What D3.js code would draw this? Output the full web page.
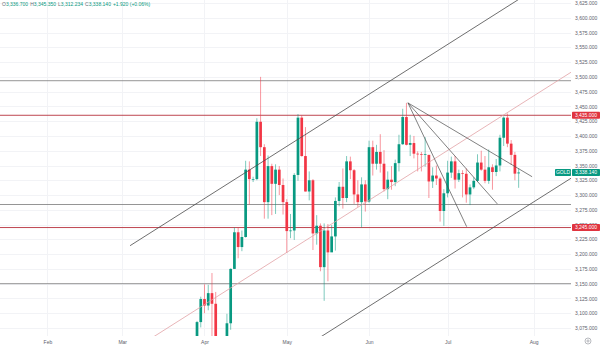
<!DOCTYPE html>
<html>
<head>
<meta charset="utf-8">
<script src="https://cdn.jsdelivr.net/npm/d3@7"></script>
<style>
  html, body { margin: 0; padding: 0; background: #ffffff; }
  svg { display: block; font-family: "Liberation Sans", Arial, sans-serif; }
</style>
</head>
<body>
<svg id="chart" width="600" height="346"></svg>
<script>
// ---- daily candles (GOLD, 2025) ----
const dates = [
  "2025-03-28","2025-03-31",
  "2025-04-01","2025-04-02","2025-04-03","2025-04-04","2025-04-07","2025-04-08","2025-04-09","2025-04-10","2025-04-11",
  "2025-04-14","2025-04-15","2025-04-16","2025-04-17","2025-04-18","2025-04-21","2025-04-22","2025-04-23","2025-04-24","2025-04-25",
  "2025-04-28","2025-04-29","2025-04-30",
  "2025-05-01","2025-05-02","2025-05-05","2025-05-06","2025-05-07","2025-05-08","2025-05-09","2025-05-12","2025-05-13","2025-05-14",
  "2025-05-15","2025-05-16","2025-05-19","2025-05-20","2025-05-21","2025-05-22","2025-05-23","2025-05-26","2025-05-27","2025-05-28",
  "2025-05-29","2025-05-30",
  "2025-06-02","2025-06-03","2025-06-04","2025-06-05","2025-06-06","2025-06-09","2025-06-10","2025-06-11","2025-06-12","2025-06-13",
  "2025-06-16","2025-06-17","2025-06-18","2025-06-19","2025-06-20","2025-06-23","2025-06-24","2025-06-25","2025-06-26","2025-06-27",
  "2025-06-30",
  "2025-07-01","2025-07-02","2025-07-03","2025-07-04","2025-07-07","2025-07-08","2025-07-09","2025-07-10","2025-07-11","2025-07-14",
  "2025-07-15","2025-07-16","2025-07-17","2025-07-18","2025-07-21","2025-07-22","2025-07-23","2025-07-24","2025-07-25","2025-07-28"
];
const opens = [
  3057,3085,
  3124,3113,3134,3116,3037,2983,2982,3083,3175,
  3237,3212,3229,3343,3327,3327,3424,3381,3288,3349,
  3319,3343,3317,
  3288,3239,3240,3334,3431,3366,3306,3325,3235,3248,
  3178,3240,3203,3230,3290,3314,3295,3357,3342,3301,
  3288,3318,
  3289,3381,3353,3373,3353,3310,3326,3322,3354,3386,
  3432,3385,3388,3370,3369,3368,3368,3323,3333,3328,
  3273,
  3303,3338,3357,3326,3337,3336,3301,3313,3324,3355,
  3343,3324,3347,3339,3350,3397,3431,3387,3368,3336.7
];
const highs = [
  3087,3128,
  3149,3148,3168,3136,3055,3023,3099,3176,3245,
  3245,3240,3358,3357,3331,3430,3500,3386,3367,3353,
  3352,3349,3328,
  3293,3268,3337,3437,3435,3415,3340,3327,3266,3252,
  3252,3251,3249,3296,3322,3345,3366,3365,3344,3325,
  3330,3325,
  3392,3392,3385,3403,3376,3340,3349,3360,3402,3446,
  3456,3402,3400,3374,3373,3398,3368,3347,3350,3331,
  3310,
  3358,3365,3366,3343,3342,3345,3318,3330,3369,3375,
  3366,3377,3352,3361,3402,3433,3438,3393,3373,3345.35
];
const lows = [
  3055,3076,
  3100,3105,3054,3015,2957,2971,2957,3072,3175,
  3193,3205,3228,3284,3322,3325,3366,3260,3260,3266,
  3268,3300,3267,
  3202,3227,3224,3324,3365,3306,3291,3207,3216,3171,
  3121,3154,3205,3206,3281,3277,3288,3327,3285,3280,
  3245,3272,
  3287,3333,3343,3338,3306,3293,3309,3315,3340,3385,
  3384,3366,3362,3340,3340,3348,3295,3312,3317,3255,
  3248,
  3296,3329,3311,3322,3296,3287,3283,3310,3322,3341,
  3320,3319,3309,3332,3340,3383,3381,3351,3325,3312.234
];
const closes = [
  3085,3124,
  3113,3134,3116,3037,2983,2982,3083,3175,3237,
  3212,3229,3343,3327,3327,3424,3381,3288,3349,3319,
  3343,3317,3288,
  3239,3240,3334,3431,3366,3306,3325,3235,3248,3178,
  3240,3203,3230,3290,3314,3295,3357,3342,3301,3288,
  3318,3289,
  3381,3353,3373,3353,3310,3326,3322,3354,3386,3432,
  3385,3388,3370,3369,3368,3369,3323,3333,3328,3273,
  3303,
  3338,3357,3326,3337,3336,3301,3313,3324,3355,3343,
  3324,3347,3339,3350,3397,3431,3387,3368,3336.22,3338.14
];

// bar numbers are counted in trading days from 1 April (first candle sits two bars earlier)
const firstBar = -2;

// time axis
const monthLabels = ["Feb", "Mar", "Apr", "May", "Jun", "Jul", "Aug"];
const monthBars   = [-42, -22, 0, 22, 44, 65, 88];

// price axis
const priceTicks = d3.range(3075, 3626, 25);

// drawn levels
const greyLevels = [3493.5, 3284, 3150];
const redLevels  = [3435, 3245];

// ascending parallel channel: upper edge anchors, lower edges spaced by channelStep
const channelStart = { bar: -19.9, price: 3214.3 };
const channelEnd   = { bar: 80,    price: 3615.0 };
const channelStep  = 179.4;

// fan of trend lines drawn from the June high
const fanApex = { bar: 54.4, price: 3456 };
const fanEnds = [
  { bar: 70.1, price: 3246.5 },
  { bar: 78.3, price: 3285 },
  { bar: 87.6, price: 3331 }
];

const symbolName = "GOLD";

// ---- layout ----
const W = 600, H = 346;
const plotRight = 571, plotBottom = 336;
const UP = "#089981", DOWN = "#f23645";

const svg = d3.select("#chart");

const x = d3.scaleLinear().domain([-54.68, 98.0]).range([0, plotRight]);
const y = d3.scaleLinear().domain([3075, 3625]).range([328, 3]);

const candles = dates.map((d, i) => ({
  date: d, bar: firstBar + i,
  o: opens[i], h: highs[i], l: lows[i], c: closes[i]
}));

svg.append("defs").append("clipPath").attr("id", "plot")
  .append("rect").attr("x", 0).attr("y", 0).attr("width", plotRight).attr("height", plotBottom);

// grid
const grid = svg.append("g").attr("clip-path", "url(#plot)");
grid.selectAll("line.h").data(priceTicks).join("line")
  .attr("x1", 0).attr("x2", plotRight)
  .attr("y1", d => Math.round(y(d)) + 0.5).attr("y2", d => Math.round(y(d)) + 0.5)
  .attr("stroke", "#f2f3f6").attr("stroke-width", 1);
grid.selectAll("line.v").data(monthBars).join("line")
  .attr("x1", d => Math.round(x(d)) + 0.5).attr("x2", d => Math.round(x(d)) + 0.5)
  .attr("y1", 0).attr("y2", plotBottom)
  .attr("stroke", "#f2f3f6").attr("stroke-width", 1);

// horizontal levels
const levels = svg.append("g").attr("clip-path", "url(#plot)");
levels.selectAll("line.grey").data(greyLevels).join("line")
  .attr("x1", 0).attr("x2", plotRight)
  .attr("y1", d => y(d)).attr("y2", d => y(d))
  .attr("stroke", "#7a7a7a").attr("stroke-width", 0.8);
levels.selectAll("line.red").data(redLevels).join("line")
  .attr("x1", 0).attr("x2", plotRight)
  .attr("y1", d => y(d)).attr("y2", d => y(d))
  .attr("stroke", "#b8323d").attr("stroke-width", 0.9);

// candles
const cg = svg.append("g").attr("clip-path", "url(#plot)");
const bodyW = 2.7;
cg.selectAll("line.wick").data(candles).join("line")
  .attr("x1", d => x(d.bar)).attr("x2", d => x(d.bar))
  .attr("y1", d => y(d.h)).attr("y2", d => y(d.l))
  .attr("stroke", d => d.c >= d.o ? UP : DOWN)
  .attr("stroke-width", 0.7).attr("stroke-opacity", 0.75);
cg.selectAll("rect.body").data(candles).join("rect")
  .attr("x", d => x(d.bar) - bodyW / 2)
  .attr("width", bodyW)
  .attr("y", d => y(Math.max(d.o, d.c)))
  .attr("height", d => Math.max(0.7, Math.abs(y(d.o) - y(d.c))))
  .attr("fill", d => d.c >= d.o ? UP : DOWN);

// channel lines, extended to the right edge
const slope = (channelEnd.price - channelStart.price) / (channelEnd.bar - channelStart.bar);
const farBar = x.invert(plotRight);
const chan = svg.append("g").attr("clip-path", "url(#plot)");
[
  { off: 0, color: "#4a4a4a" },
  { off: 1, color: "#e2a2a6" },
  { off: 2, color: "#4a4a4a" }
].forEach(c => {
  const p0 = channelStart.price - c.off * channelStep;
  const p1 = p0 + slope * (farBar - channelStart.bar);
  chan.append("line")
    .attr("x1", x(channelStart.bar)).attr("y1", y(p0))
    .attr("x2", x(farBar)).attr("y2", y(p1))
    .attr("stroke", c.color).attr("stroke-width", 0.8);
});

// fan lines
chan.selectAll("line.fan").data(fanEnds).join("line")
  .attr("x1", x(fanApex.bar)).attr("y1", y(fanApex.price))
  .attr("x2", d => x(d.bar)).attr("y2", d => y(d.price))
  .attr("stroke", "#4a4a4a").attr("stroke-width", 0.7);

// right price axis
const yAxis = svg.append("g")
  .attr("transform", `translate(${plotRight + 3},0)`)
  .call(d3.axisRight(y).tickValues(priceTicks).tickFormat(d3.format(",.3f")).tickSize(0).tickPadding(1));
yAxis.select(".domain").remove();
yAxis.selectAll("text").attr("font-size", 5).attr("fill", "#5d606b")
  .attr("font-family", "Liberation Sans, Arial, sans-serif");

// bottom time axis
const xAxis = svg.append("g")
  .attr("transform", `translate(0,${plotBottom + 2})`)
  .call(d3.axisBottom(x).tickValues(monthBars).tickFormat((d, i) => monthLabels[i]).tickSize(0).tickPadding(2));
xAxis.select(".domain").remove();
xAxis.selectAll("text").attr("font-size", 5).attr("fill", "#5d606b")
  .attr("font-family", "Liberation Sans, Arial, sans-serif");

// price tags on the axis
const fmt = d3.format(",.3f");
function tag(price, fill, x0, x1, text) {
  const yy = y(price);
  svg.append("rect").attr("x", x0).attr("y", yy - 3.5).attr("width", x1 - x0).attr("height", 7)
    .attr("fill", fill).attr("rx", 0.8);
  svg.append("text").attr("x", (x0 + x1) / 2).attr("y", yy).attr("dy", "0.35em")
    .attr("text-anchor", "middle").attr("font-size", 5).attr("fill", "#ffffff").text(text);
}
redLevels.forEach(p => tag(p, "#e0343f", plotRight + 1, W, fmt(p)));
const last = candles[candles.length - 1];
tag(last.c, UP, plotRight - 16, plotRight, symbolName);
tag(last.c, UP, plotRight + 1, W, fmt(last.c));

// settings glyph in the axis corner
const gear = svg.append("g").attr("transform", "translate(588,341)");
gear.append("circle").attr("r", 3).attr("fill", "none").attr("stroke", "#8a8d96").attr("stroke-width", 0.6);
gear.append("circle").attr("r", 1.1).attr("fill", "none").attr("stroke", "#8a8d96").attr("stroke-width", 0.6);

// OHLC legend
const prev = candles[candles.length - 2].c;
const chg = last.c - prev;
const legend = svg.append("text").attr("x", 2).attr("y", 6).attr("font-size", 5);
const f3 = d3.format(",.3f");
[["O", last.o], ["H", last.h], ["L", last.l], ["C", last.c]].forEach(([k, v], i) => {
  legend.append("tspan").attr("fill", "#6a6d78").attr("dx", i ? 2 : 0).text(k);
  legend.append("tspan").attr("fill", UP).text(f3(v));
});
legend.append("tspan").attr("fill", UP).attr("dx", 2)
  .text(`${chg >= 0 ? "+" : ""}${d3.format(",.3f")(chg)} (${chg >= 0 ? "+" : ""}${d3.format(".2f")(chg / prev * 100)}%)`);
</script>
</body>
</html>
